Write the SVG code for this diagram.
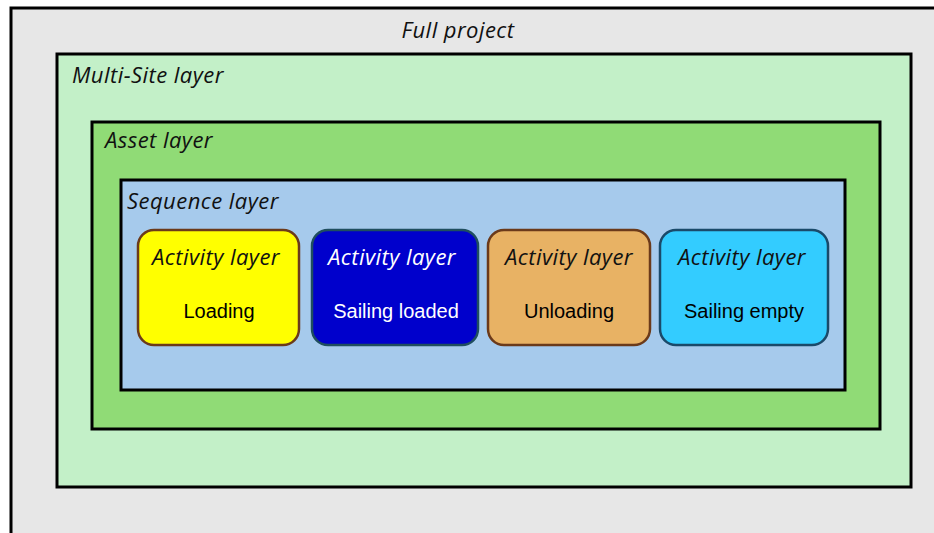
<svg xmlns="http://www.w3.org/2000/svg" width="934" height="533" viewBox="0 0 934 533">
  <style>
    .layer { stroke: #000; stroke-width: 3; }
    .title { font-family: "Open Sans", "Noto Sans", sans-serif; font-style: italic; font-size: 22px; letter-spacing: 0.45px; fill: #111; }
    .act { stroke-width: 2.5; }
    .name { font-family: "Liberation Sans", Arial, sans-serif; font-size: 20px; text-anchor: middle; fill: #000; }
    .acttitle { text-anchor: middle; }
  </style>
  <rect width="934" height="533" fill="#fff"/>

  <g id="full-project">
    <rect class="layer" x="11" y="8" width="940" height="540" fill="#e7e7e7"/>
    <text class="title" x="458" y="38" text-anchor="middle">Full project</text>
  </g>

  <g id="multi-site-layer">
    <rect class="layer" x="57" y="54" width="854" height="433" fill="#c3f0c8"/>
    <text class="title" x="72" y="83">Multi-Site layer</text>
  </g>

  <g id="asset-layer">
    <rect class="layer" x="92" y="122" width="788" height="307" fill="#90db76"/>
    <text class="title" x="105" y="148">Asset layer</text>
  </g>

  <g id="sequence-layer">
    <rect class="layer" x="121" y="180" width="724" height="210" fill="#a6caec"/>
    <text class="title" x="127" y="209">Sequence layer</text>
  </g>

  <g id="activity-loading">
    <rect class="act" x="138" y="230" width="161" height="115" rx="16" fill="#ffff00" stroke="#6b3a1a"/>
    <text class="title acttitle" x="216" y="265">Activity layer</text>
    <text class="name" x="219" y="318">Loading</text>
  </g>

  <g id="activity-sailing-loaded">
    <rect class="act" x="312" y="230" width="166" height="115" rx="16" fill="#0000cc" stroke="#1f4e5f"/>
    <text class="title acttitle" x="392" y="265" style="fill:#fff">Activity layer</text>
    <text class="name" x="396" y="318" style="fill:#fff">Sailing loaded</text>
  </g>

  <g id="activity-unloading">
    <rect class="act" x="488" y="230" width="162" height="115" rx="16" fill="#e8b264" stroke="#6b3a1a"/>
    <text class="title acttitle" x="569" y="265">Activity layer</text>
    <text class="name" x="569" y="318">Unloading</text>
  </g>

  <g id="activity-sailing-empty">
    <rect class="act" x="660" y="230" width="168" height="115" rx="16" fill="#33ccff" stroke="#1a4a6a"/>
    <text class="title acttitle" x="742" y="265">Activity layer</text>
    <text class="name" x="744" y="318">Sailing empty</text>
  </g>

  <g id="connectors"/>
</svg>
